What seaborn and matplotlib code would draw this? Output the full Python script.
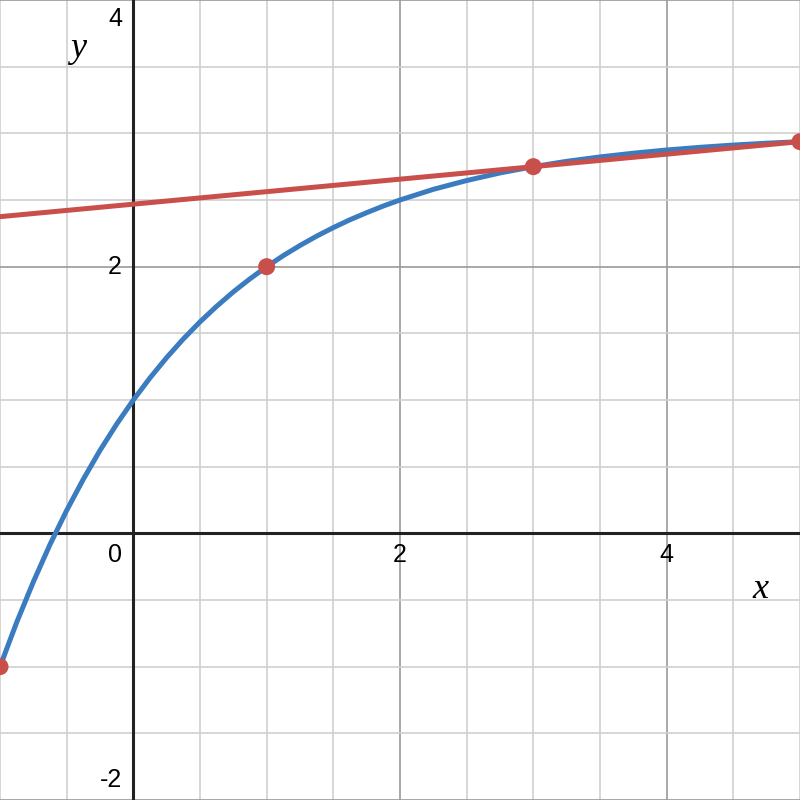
import matplotlib
matplotlib.use("Agg")
import matplotlib.pyplot as plt
import seaborn as sns
import pandas as pd
import numpy as np

# Curve values
curve_x = [-1.0, -0.875, -0.75, -0.625, -0.5, -0.375, -0.25, -0.125, 0.0, 0.125, 0.25,
           0.375, 0.5, 0.625, 0.75, 0.875, 1.0, 1.125, 1.25, 1.375, 1.5, 1.625, 1.75,
           1.875, 2.0, 2.25, 2.5, 2.75, 3.0, 3.25, 3.5, 3.75, 4.0, 4.25, 4.5, 4.75, 5.0]
curve_y = [-1.0, -0.668, -0.364, -0.084, 0.172, 0.406, 0.622, 0.819, 1.0, 1.166, 1.318,
           1.458, 1.586, 1.703, 1.811, 1.909, 2.0, 2.083, 2.159, 2.229, 2.293, 2.352, 2.405,
           2.455, 2.5, 2.580, 2.646, 2.703, 2.75, 2.790, 2.823, 2.851, 2.875, 2.895, 2.912,
           2.926, 2.9375]

# Secant line endpoints (through (3, 2.75) and (5, 2.9375))
line_x = [-1.0, 5.0]
line_y = [2.375, 2.9375]

# Highlighted points
pt_x = [-1.0, 1.0, 3.0, 5.0]
pt_y = [-1.0, 2.0, 2.75, 2.9375]

x_ticks = [0, 2, 4]
y_ticks = [-2, 2, 4]

BLUE = "#3b7cc0"
RED = "#c94f4a"

sns.set_theme(style="white")
fig = plt.figure(figsize=(8, 8), dpi=100)
ax = fig.add_axes([0, 0, 1, 1])
ax.set_xlim(-1, 5)
ax.set_ylim(-2, 4)

# grid
for v in np.arange(-1, 5.01, 0.5):
    major = abs(v % 2) < 1e-9
    ax.axvline(v, color="#9a9a9a" if major else "#d0d0d0", lw=1.2, zorder=0)
for v in np.arange(-2, 4.01, 0.5):
    major = abs(v % 2) < 1e-9
    ax.axhline(v, color="#9a9a9a" if major else "#d0d0d0", lw=1.2, zorder=0)
ax.axvline(0, color="#222222", lw=2.2, zorder=1)
ax.axhline(0, color="#222222", lw=2.2, zorder=1)

df_c = pd.DataFrame({"x": curve_x, "y": curve_y})
df_l = pd.DataFrame({"x": line_x, "y": line_y})
df_p = pd.DataFrame({"x": pt_x, "y": pt_y})

sns.lineplot(data=df_c, x="x", y="y", ax=ax, color=BLUE, lw=3.6, sort=False, zorder=3,
             solid_capstyle="round", solid_joinstyle="round")
sns.lineplot(data=df_l, x="x", y="y", ax=ax, color=RED, lw=3.6, sort=False, zorder=4)
sns.scatterplot(data=df_p, x="x", y="y", ax=ax, color=RED, s=150, edgecolor="none",
                zorder=5, clip_on=False)

ax.set_xlim(-1, 5)
ax.set_ylim(-2, 4)
ax.set_xticks([])
ax.set_yticks([])
ax.set_xlabel("")
ax.set_ylabel("")
for s in ax.spines.values():
    s.set_visible(False)

font = "Liberation Sans"
fs = 18
for t in x_ticks:
    if t == 0:
        ax.text(-0.085, -0.165, str(t), ha="right", va="center", fontsize=fs, family=font,
                color="black")
    else:
        ax.text(t, -0.165, str(t), ha="center", va="center", fontsize=fs, family=font,
                color="black")
for t in y_ticks:
    yy = t
    if t == 4:
        yy = 3.855
    if t == -2:
        yy = -1.85
    ax.text(-0.085, yy, str(t), ha="right", va="center", fontsize=fs, family=font,
            color="black")

ax.text(4.70, -0.42, "x", ha="center", va="center", fontsize=26, family="Liberation Serif",
        style="italic", color="black")
ax.text(-0.415, 3.64, "y", ha="center", va="center", fontsize=26, family="Liberation Serif",
        style="italic", color="black")

fig.savefig("out.png", dpi=100)
